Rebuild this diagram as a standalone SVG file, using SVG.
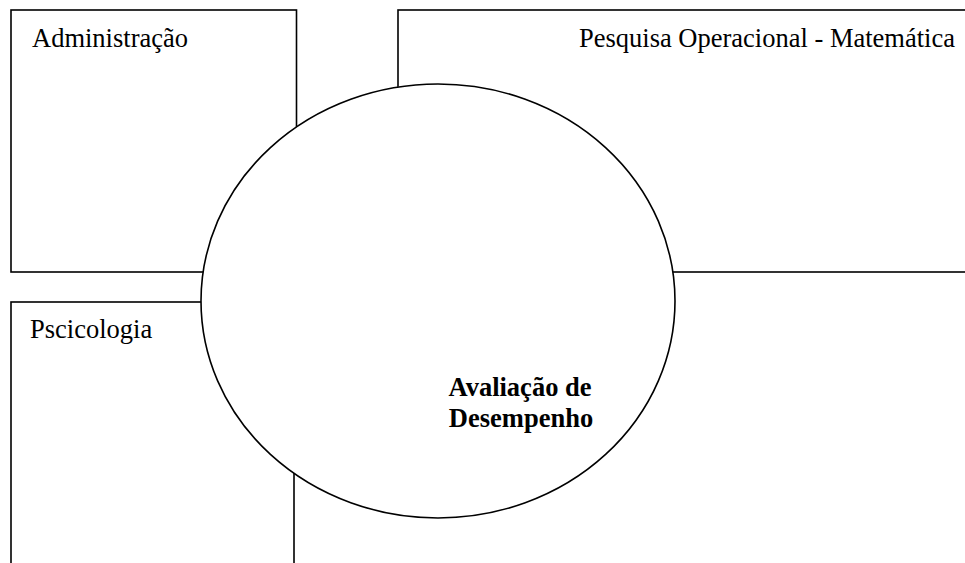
<svg xmlns="http://www.w3.org/2000/svg" width="965" height="563" viewBox="0 0 965 563">
<style>
.box{fill:#fff;stroke:#000;stroke-width:1.6}
.lbl{font-family:"Liberation Serif","Times New Roman",serif;font-size:26.5px;fill:#000}
.bold{font-weight:bold;text-anchor:middle}
</style>
<rect width="965" height="563" fill="#fff"/>
<g id="administracao">
<rect class="box" x="11" y="10" width="285.5" height="262"/>
<text class="lbl" x="32" y="46.5">Administração</text>
</g>
<g id="pesquisa">
<rect class="box" x="398" y="10" width="600" height="262"/>
<text class="lbl" x="955" y="46.5" text-anchor="end">Pesquisa Operacional - Matemática</text>
</g>
<g id="psicologia">
<rect class="box" x="11" y="302" width="283" height="300"/>
<text class="lbl" x="30" y="337.5">Pscicologia</text>
</g>
<g id="avaliacao">
<ellipse class="box" cx="438" cy="301" rx="237" ry="217"/>
<text class="lbl bold" x="520" y="396">Avaliação de</text>
<text class="lbl bold" x="521" y="427">Desempenho</text>
</g>
<g id="connectors"></g>
</svg>
